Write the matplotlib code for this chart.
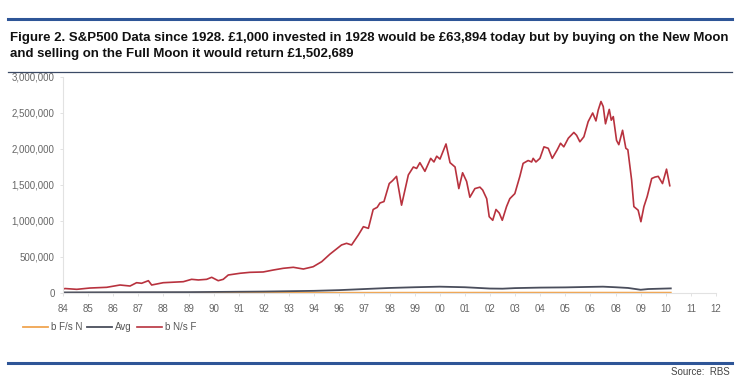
import matplotlib.pyplot as plt
from matplotlib.lines import Line2D
import numpy as np

# x positions are category-slot positions on the year axis (84 -> 0, 12 -> 26)
year_labels = ['84', '85', '86', '87', '88', '89', '90', '91', '92', '93', '94', '96', '97',
               '98', '99', '00', '01', '02', '03', '04', '05', '06', '08', '09', '10', '11', '12']

# bN/sF series (buy New Moon, sell Full Moon), values in thousands
red_t = [0.00, 0.08, 0.55, 1.07, 1.74, 2.27, 2.67, 2.93, 3.13, 3.40, 3.53, 3.99, 4.79, 5.12,
         5.39, 5.72, 5.92, 6.18, 6.38, 6.58, 7.05, 7.44, 7.97, 8.37, 8.77, 9.17, 9.57, 9.96,
         10.30, 10.63, 11.09, 11.29, 11.49, 11.76, 11.96, 12.16, 12.35, 12.51, 12.62, 12.78,
         12.99, 13.12, 13.28, 13.48, 13.75, 13.95, 14.08, 14.21, 14.41, 14.64, 14.77, 14.88,
         15.01, 15.25, 15.41, 15.61, 15.76, 15.91, 16.07, 16.20, 16.40, 16.60, 16.71, 16.87,
         16.97, 17.11, 17.24, 17.37, 17.49, 17.66, 17.79, 17.99, 18.19, 18.32, 18.52, 18.66,
         18.72, 18.83, 18.99, 19.15, 19.32, 19.48, 19.68, 19.81, 19.94, 20.12, 20.34, 20.45,
         20.58, 20.74, 20.91, 21.09, 21.22, 21.31, 21.42, 21.51, 21.60, 21.75, 21.83, 21.91,
         22.04, 22.13, 22.28, 22.41, 22.49, 22.64, 22.73, 22.90, 23.01, 23.13, 23.26, 23.44,
         23.57, 23.70, 23.87, 24.03, 24.16]
red_v = [55, 62, 51, 69, 79, 111, 97, 143, 135, 171, 111, 143, 157, 190,
         181, 190, 218, 171, 190, 250, 274, 287, 292, 319, 343, 357, 333, 365,
         435, 540, 667, 690, 667, 806, 921, 898, 1160, 1190, 1250, 1270,
         1520, 1560, 1620, 1220, 1640, 1750, 1730, 1810, 1690, 1870, 1820, 1900,
         1860, 2070, 1810, 1750, 1450, 1670, 1550, 1330, 1450, 1470, 1430, 1310,
         1060, 1010, 1160, 1110, 1010, 1200, 1310, 1380, 1620, 1800, 1840, 1820,
         1870, 1820, 1870, 2030, 2010, 1870, 1990, 2080, 2030, 2150, 2230, 2190,
         2100, 2170, 2380, 2500, 2390, 2540, 2660, 2590, 2350, 2550, 2400, 2450,
         2120, 2060, 2260, 2010, 1990, 1570, 1200, 1150, 990, 1200, 1340, 1590,
         1610, 1620, 1520, 1720, 1490]

# Avg series, thousands
avg_t = [0, 2, 5, 8, 10, 11, 12, 13, 14, 15, 16, 17, 17.5, 18, 19, 20, 21, 21.5, 22, 22.5,
         23, 23.3, 24, 24.2]
avg_v = [8, 10, 12, 20, 30, 40, 55, 70, 80, 88, 80, 62, 60, 68, 75, 78, 85, 88, 80, 70,
         45, 55, 62, 64]

# bF/sN series, thousands
orange_t = [0, 6, 12, 18, 24.2]
orange_v = [2, 3, 4, 5, 5]

fig = plt.figure(figsize=(7.38, 3.79), dpi=100)
plt.rcParams['font.family'] = ['Liberation Sans Narrow', 'Liberation Sans', 'DejaVu Sans']

ax = fig.add_axes([63 / 738, 1 - 293 / 379, 653 / 738, 216 / 379])
ax.plot(orange_t, np.array(orange_v) * 1000, color='#F0A550', lw=1.3, label='b F/s N')
ax.plot(avg_t, np.array(avg_v) * 1000, color='#4A4E5C', lw=1.3, label='Avg')
ax.plot(red_t, np.array(red_v) * 1000, color='#B8323E', lw=1.2, label='b N/s F')

ax.set_xlim(0, 26)
ax.set_ylim(0, 3000000)
ax.set_xticks(range(len(year_labels)))
ax.set_xticklabels(year_labels)
ax.set_yticks(np.arange(0, 3000001, 500000))
ax.set_yticklabels([f'{v:,}' for v in range(0, 3000001, 500000)])
ax.tick_params(axis='both', labelsize=7, colors='#DDDDDD', labelcolor='#666666',
               length=2, width=0.6, pad=4)
ax.tick_params(axis='x', pad=6)
for s in ['top', 'right']:
    ax.spines[s].set_visible(False)
for s in ['left', 'bottom']:
    ax.spines[s].set_color('#E2E2E2')
    ax.spines[s].set_linewidth(0.8)

# header/footer rules and text
fig.add_artist(Line2D([8 / 738, 732 / 738], [1 - 19 / 379] * 2, color='#2E5597', lw=2.2))
fig.add_artist(Line2D([8 / 738, 732 / 738], [1 - 72 / 379] * 2, color='#3B4A66', lw=0.9))
fig.add_artist(Line2D([8 / 738, 732 / 738], [1 - 363 / 379] * 2, color='#2E5597', lw=2.2))
fig.text(10 / 738, 1 - 46 / 379,
         'Figure 2. S&P500 Data since 1928. £1,000 invested in 1928 would be £63,894 today but by buying on the New Moon\n'
         'and selling on the Full Moon it would return £1,502,689',
         fontsize=9.5, fontweight='bold', color='#111111', va='center', ha='left', linespacing=1.55)
fig.text(730 / 738, 1 - 372 / 379, 'Source:  RBS', fontsize=7, color='#444444',
         ha='right', va='center')

fig.legend(loc='center left', bbox_to_anchor=(14 / 738, 1 - 327 / 379), ncol=3, frameon=False,
           fontsize=7, handlelength=2.6, handletextpad=0.3, columnspacing=0.5,
           labelcolor='#555555')

fig.savefig('out.png', dpi=100)
